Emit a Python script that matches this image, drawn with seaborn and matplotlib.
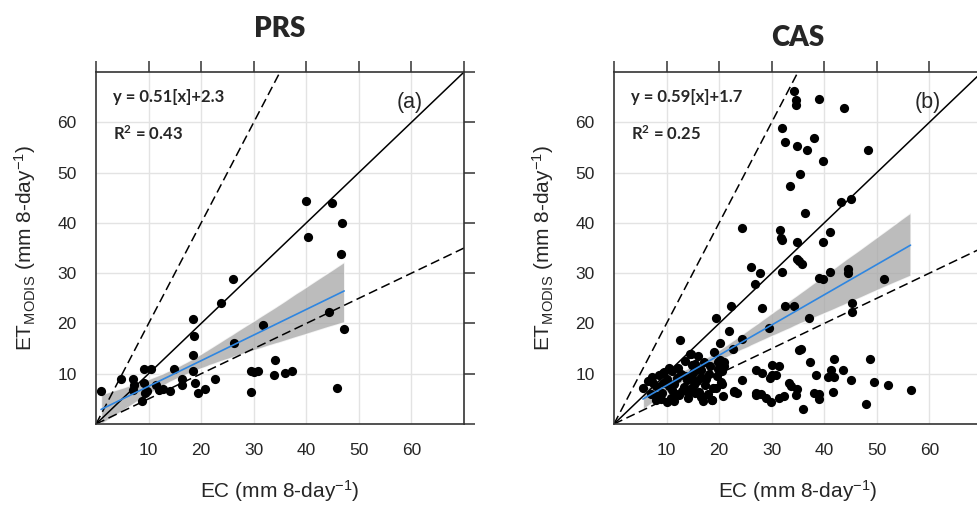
import numpy as np
import pandas as pd
import matplotlib
matplotlib.use("Agg")
import matplotlib.pyplot as plt
import seaborn as sns

# ---------- data ----------
prs_ec = [0.95, 4.8, 7.1, 7.3, 7.0, 8.7, 9.2, 10.5, 9.2, 9.7, 9.3, 11.4, 11.9, 12.7,
          14.1, 14.9, 16.4, 16.4, 18.4, 18.7, 18.4, 18.4, 18.9, 19.4, 20.8, 22.7,
          23.7, 26.0, 26.3, 29.5, 29.5, 30.0, 30.8, 31.7, 34.1, 33.9, 35.9, 37.3,
          40.0, 40.3, 44.8, 44.3, 46.8, 46.6, 47.2, 45.8]
prs_et = [6.6, 8.9, 8.9, 7.8, 6.8, 4.6, 10.9, 10.9, 8.1, 6.6, 6.1, 7.8, 6.8, 6.9,
          6.6, 10.9, 8.9, 7.8, 20.8, 17.5, 13.8, 10.6, 8.2, 6.1, 6.9, 8.9,
          24.1, 28.8, 16.2, 6.3, 10.6, 10.4, 10.6, 19.7, 12.7, 9.7, 10.1, 10.5,
          44.3, 37.1, 43.9, 22.3, 39.9, 33.9, 18.9, 7.1]

cas_ec = [34.3, 34.6, 34.6, 38.9, 43.8, 31.9, 32.6, 34.9, 36.8, 38.1, 48.4, 39.7,
          35.4, 33.5, 43.2, 45.1, 36.4, 24.4, 31.6, 31.7, 31.9, 34.9, 41.0, 39.8,
          34.8, 35.2, 35.7, 26.0, 27.7, 31.9, 26.8, 41.1, 38.9, 39.8, 44.6, 44.6,
          51.4, 45.3, 45.3, 22.3, 28.1, 32.6, 34.3, 37.0, 19.4, 29.4, 21.9, 12.5,
          24.3, 20.2, 22.7, 19.0, 14.4,
          35.2, 35.6, 37.3, 41.9, 48.6, 24.4, 27.0, 28.2, 30.1, 31.4, 30.0, 30.9,
          29.7, 38.4, 41.2, 40.8, 41.8, 43.5, 45.0, 33.3, 33.6, 34.9, 34.7, 27.0,
          28.0, 28.9, 29.8, 31.4, 32.3, 38.1, 38.9, 38.9, 41.6, 36.0, 47.9, 49.5,
          52.1, 56.4,
          14.6, 19.8, 20.4, 19.8, 5.5, 7.3, 7.4, 7.9, 9.4, 9.6, 9.4, 9.2, 10.1,
          11.1, 12.0, 12.1, 12.3, 13.3, 13.9, 14.0, 14.9, 15.0, 15.2, 16.2, 16.5,
          16.6, 17.1, 17.3, 16.6, 18.7, 18.9, 20.3, 20.6, 22.8, 23.4, 27.0,
          6.5, 7.0, 8.0, 8.5, 8.2, 10.0, 10.5, 10.8, 11.0, 11.5, 11.8, 12.8, 13.0,
          13.5, 14.5, 14.8, 15.5, 15.8, 16.0, 17.5, 17.8, 18.0, 16.0, 13.5, 10.5,
          9.0, 11.5, 14.0, 15.5, 18.2, 19.5, 20.5, 21.0, 20.8, 17.0, 18.6, 17.0,
          19.4, 22.9, 20.2, 21.0]
cas_et = [66.2, 64.5, 63.4, 64.7, 62.8, 58.9, 56.0, 55.2, 54.4, 56.9, 54.4, 52.3,
          49.7, 47.3, 44.2, 44.8, 42.0, 39.0, 38.5, 37.0, 36.6, 36.1, 38.2, 36.1,
          32.8, 32.4, 31.9, 31.3, 30.1, 30.3, 27.8, 30.3, 29.1, 28.9, 30.8, 30.1,
          28.9, 24.1, 22.2, 23.4, 23.1, 23.5, 23.5, 21.1, 21.1, 19.1, 18.5, 16.7,
          17.0, 16.2, 15.0, 14.4, 14.0,
          14.7, 14.9, 12.4, 13.0, 13.0, 8.7, 10.7, 10.2, 11.7, 11.5, 9.7, 9.7,
          9.1, 9.7, 10.7, 9.4, 9.4, 10.7, 8.7, 8.1, 7.5, 6.9, 5.8, 6.1,
          6.0, 5.1, 4.4, 5.1, 5.6, 6.1, 5.9, 5.0, 6.4, 2.9, 4.0, 8.4,
          7.7, 6.8,
          13.9, 12.4, 11.7, 10.9, 7.1, 9.4, 8.1, 4.8, 10.1, 10.4, 8.1, 6.1, 4.4,
          6.8, 9.1, 11.1, 5.8, 7.4, 8.7, 6.4, 11.7, 10.1, 7.8, 6.4, 10.7,
          9.4, 12.4, 7.8, 5.4, 4.8, 7.1, 8.4, 7.9, 6.4, 6.2, 5.8,
          8.5, 6.0, 7.5, 9.8, 5.5, 9.0, 7.5, 5.2, 10.5, 8.0, 6.0, 10.0, 6.5,
          9.5, 7.0, 9.0, 12.0, 8.5, 11.0, 9.0, 6.0, 10.0, 13.5, 12.5, 11.2,
          5.0, 4.6, 5.2, 6.2, 11.5, 9.5, 10.5, 12.4, 5.5, 4.5, 4.8, 5.4,
          7.1, 6.6, 12.7, 11.5]

sites = ["PRS", "CAS"]
panel_tags = ["(a)", "(b)"]
fit_texts = ["y = 0.51[x]+2.3", "y = 0.59[x]+1.7"]
r2_texts = ["R$^2$ = 0.43", "R$^2$ = 0.25"]
ref_slopes = [1.0, 2.0, 0.5]          # 1:1 solid, 2:1 and 1:2 dashed
ref_styles = ["-", "--", "--"]
tick_vals = [0, 10, 20, 30, 40, 50, 60, 70]
tick_labels = ["", "10", "20", "30", "40", "50", "60", ""]

df = pd.concat([
    pd.DataFrame({"site": "PRS", "EC": prs_ec, "ET": prs_et}),
    pd.DataFrame({"site": "CAS", "EC": cas_ec, "ET": cas_et}),
])

# ---------- style ----------
sns.set_style("white")
plt.rcParams["font.family"] = ["Liberation Sans", "DejaVu Sans"]
plt.rcParams["mathtext.default"] = "regular"

fig = plt.figure(figsize=(9.78, 5.07), dpi=100)
ax_pos = [[0.0982, 0.1637, 0.3763, 0.6943],
          [0.6278, 0.1637, 0.3763, 0.6943]]
title_pad = [25, 19]
fsize = 15
bold_font = ["Lato", "DejaVu Sans"]

for i, site in enumerate(sites):
    ax = fig.add_axes(ax_pos[i])
    data = df.loc[df["site"] == site]

    # grid
    for v in tick_vals[1:-1]:
        ax.axvline(v, color="#e3e3e3", lw=1.0, zorder=0)
        ax.axhline(v, color="#e3e3e3", lw=1.0, zorder=0)

    # reference lines through the origin
    for slope, ls in zip(ref_slopes, ref_styles):
        ax.axline((0, 0), slope=slope, color="black", lw=1.1, ls=ls,
                  dashes=(6, 3) if ls == "--" else (None, None), zorder=2)

    sns.regplot(
        ax=ax, data=data, x="EC", y="ET",
        ci=90, seed=1, n_boot=1000,
        scatter_kws=dict(color="black", s=44, linewidths=0, alpha=1, zorder=3),
        line_kws=dict(color="#2f86e0", lw=1.2, zorder=4),
    )
    # grey CI band like the reference
    for coll in ax.collections[1:]:
        coll.set_facecolor("#a6a6a6")
        coll.set_alpha(0.75)
        coll.set_zorder(1)

    ax.set_xlim(0, 70)
    ax.set_ylim(0, 70)
    ax.set_xticks(tick_vals)
    ax.set_yticks(tick_vals)
    ax.set_xticklabels(tick_labels)
    ax.set_yticklabels(tick_labels)
    ax.tick_params(axis="both", which="both", direction="out", length=8, width=1.1,
                   top=True, right=True, labelsize=12.5, pad=6, color="#333333")
    for sp in ax.spines.values():
        sp.set_color("#333333")
        sp.set_linewidth(1.2)

    ax.set_xlabel("EC (mm 8-day$^{-1}$)", fontsize=fsize, labelpad=14)
    ax.set_ylabel("ET$_{MODIS}$ (mm 8-day$^{-1}$)", fontsize=fsize, labelpad=14)
    ax.set_title(site, fontsize=20, fontweight="heavy", family=bold_font,
                 pad=title_pad[i])

    ax.text(0.045, 0.929, fit_texts[i], transform=ax.transAxes, fontsize=12,
            fontweight="bold", family=bold_font, va="center")
    ax.text(0.045, 0.824, r2_texts[i], transform=ax.transAxes, fontsize=12,
            fontweight="bold", family=bold_font, va="center")
    ax.text(0.818, 0.912, panel_tags[i], transform=ax.transAxes, fontsize=15.5,
            va="center")

fig.savefig("out.png", dpi=100)
plt.close()
